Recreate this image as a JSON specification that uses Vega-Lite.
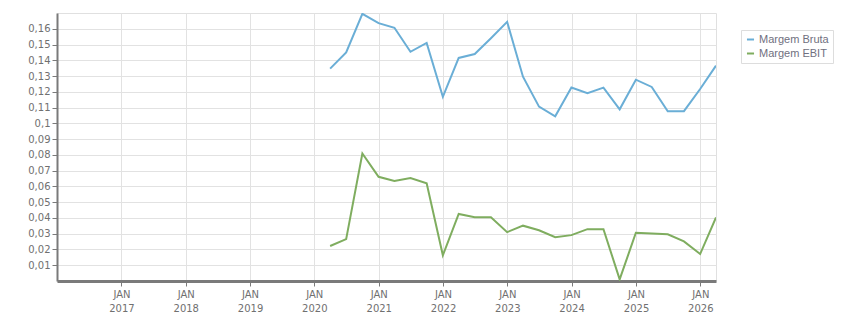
{
  "$schema": "https://vega.github.io/schema/vega-lite/v6.json",
  "width": 659,
  "height": 268,
  "autosize": {"type": "none"},
  "padding": {"left": 57, "top": 13, "right": 135, "bottom": 32},
  "background": "white",
  "config": {
    "font": "DejaVu Sans",
    "view": {"stroke": "#e0e0e0", "strokeWidth": 1},
    "axis": {
      "labelFont": "DejaVu Sans",
      "labelFontSize": 10,
      "labelColor": "#707070",
      "gridColor": "#e2e2e2",
      "gridWidth": 1,
      "domainColor": "#7a7a7a",
      "tickColor": "#7a7a7a",
      "tickSize": 5,
      "title": null
    },
    "legend": {
      "labelFont": "Liberation Sans",
      "labelFontSize": 11,
      "labelColor": "#707080"
    }
  },
  "datasets": {
    "series": [
      {"date": "2020-03-31", "serie": "Margem Bruta", "valor": 0.1347},
      {"date": "2020-06-30", "serie": "Margem Bruta", "valor": 0.145},
      {"date": "2020-09-30", "serie": "Margem Bruta", "valor": 0.1695},
      {"date": "2020-12-31", "serie": "Margem Bruta", "valor": 0.1636},
      {"date": "2021-03-31", "serie": "Margem Bruta", "valor": 0.1606},
      {"date": "2021-06-30", "serie": "Margem Bruta", "valor": 0.1454},
      {"date": "2021-09-30", "serie": "Margem Bruta", "valor": 0.151},
      {"date": "2021-12-31", "serie": "Margem Bruta", "valor": 0.1168},
      {"date": "2022-03-31", "serie": "Margem Bruta", "valor": 0.1415},
      {"date": "2022-06-30", "serie": "Margem Bruta", "valor": 0.144},
      {"date": "2022-09-30", "serie": "Margem Bruta", "valor": 0.154},
      {"date": "2022-12-31", "serie": "Margem Bruta", "valor": 0.1644},
      {"date": "2023-03-31", "serie": "Margem Bruta", "valor": 0.1296},
      {"date": "2023-06-30", "serie": "Margem Bruta", "valor": 0.1106},
      {"date": "2023-09-30", "serie": "Margem Bruta", "valor": 0.1045},
      {"date": "2023-12-31", "serie": "Margem Bruta", "valor": 0.1227},
      {"date": "2024-03-31", "serie": "Margem Bruta", "valor": 0.1191},
      {"date": "2024-06-30", "serie": "Margem Bruta", "valor": 0.1227},
      {"date": "2024-09-30", "serie": "Margem Bruta", "valor": 0.1089},
      {"date": "2024-12-31", "serie": "Margem Bruta", "valor": 0.1277},
      {"date": "2025-03-31", "serie": "Margem Bruta", "valor": 0.1231},
      {"date": "2025-06-30", "serie": "Margem Bruta", "valor": 0.1077},
      {"date": "2025-09-30", "serie": "Margem Bruta", "valor": 0.1077},
      {"date": "2025-12-31", "serie": "Margem Bruta", "valor": 0.1218},
      {"date": "2026-03-31", "serie": "Margem Bruta", "valor": 0.1366},
      {"date": "2020-03-31", "serie": "Margem EBIT", "valor": 0.0222},
      {"date": "2020-06-30", "serie": "Margem EBIT", "valor": 0.0266},
      {"date": "2020-09-30", "serie": "Margem EBIT", "valor": 0.0809},
      {"date": "2020-12-31", "serie": "Margem EBIT", "valor": 0.0661},
      {"date": "2021-03-31", "serie": "Margem EBIT", "valor": 0.0634},
      {"date": "2021-06-30", "serie": "Margem EBIT", "valor": 0.0653},
      {"date": "2021-09-30", "serie": "Margem EBIT", "valor": 0.062},
      {"date": "2021-12-31", "serie": "Margem EBIT", "valor": 0.0163},
      {"date": "2022-03-31", "serie": "Margem EBIT", "valor": 0.0425},
      {"date": "2022-06-30", "serie": "Margem EBIT", "valor": 0.0404},
      {"date": "2022-09-30", "serie": "Margem EBIT", "valor": 0.0404},
      {"date": "2022-12-31", "serie": "Margem EBIT", "valor": 0.031},
      {"date": "2023-03-31", "serie": "Margem EBIT", "valor": 0.0351},
      {"date": "2023-06-30", "serie": "Margem EBIT", "valor": 0.0322},
      {"date": "2023-09-30", "serie": "Margem EBIT", "valor": 0.0278},
      {"date": "2023-12-31", "serie": "Margem EBIT", "valor": 0.0291},
      {"date": "2024-03-31", "serie": "Margem EBIT", "valor": 0.0329},
      {"date": "2024-06-30", "serie": "Margem EBIT", "valor": 0.0329},
      {"date": "2024-09-30", "serie": "Margem EBIT", "valor": 0.001},
      {"date": "2024-12-31", "serie": "Margem EBIT", "valor": 0.0306},
      {"date": "2025-03-31", "serie": "Margem EBIT", "valor": 0.0302},
      {"date": "2025-06-30", "serie": "Margem EBIT", "valor": 0.0296},
      {"date": "2025-09-30", "serie": "Margem EBIT", "valor": 0.0251},
      {"date": "2025-12-31", "serie": "Margem EBIT", "valor": 0.0171},
      {"date": "2026-03-31", "serie": "Margem EBIT", "valor": 0.0403}
    ]
  },
  "data": {"name": "series"},
  "mark": {"type": "line", "strokeWidth": 2, "clip": true},
  "encoding": {
    "x": {
      "field": "date",
      "type": "temporal",
      "scale": {"domain": ["2016-01-01", "2026-03-31"], "nice": false},
      "axis": {
        "values": [
          {"year": 2017, "month": 1, "date": 1},
          {"year": 2018, "month": 1, "date": 1},
          {"year": 2019, "month": 1, "date": 1},
          {"year": 2020, "month": 1, "date": 1},
          {"year": 2021, "month": 1, "date": 1},
          {"year": 2022, "month": 1, "date": 1},
          {"year": 2023, "month": 1, "date": 1},
          {"year": 2024, "month": 1, "date": 1},
          {"year": 2025, "month": 1, "date": 1},
          {"year": 2026, "month": 1, "date": 1}
        ],
        "labelExpr": "['JAN', timeFormat(datum.value, '%Y')]",
        "labelLineHeight": 14,
        "labelPadding": 3,
        "labelFlush": false,
        "domainWidth": 3,
        "tickWidth": 1,
        "grid": true
      }
    },
    "y": {
      "field": "valor",
      "type": "quantitative",
      "scale": {"domain": [0, 0.17], "nice": false, "zero": true},
      "axis": {
        "values": [0.01, 0.02, 0.03, 0.04, 0.05, 0.06, 0.07, 0.08, 0.09, 0.1, 0.11, 0.12, 0.13, 0.14, 0.15, 0.16],
        "labelExpr": "replace(format(datum.value, '.2~f'), '.', ',')",
        "labelPadding": 2,
        "domainWidth": 2,
        "tickWidth": 1,
        "grid": true
      }
    },
    "color": {
      "field": "serie",
      "type": "nominal",
      "scale": {"domain": ["Margem Bruta", "Margem EBIT"], "range": ["#6aaed6", "#7fad5f"]},
      "legend": {
        "title": null,
        "orient": "none",
        "legendX": 684,
        "legendY": 17,
        "symbolType": "stroke",
        "symbolSize": 50,
        "symbolStrokeWidth": 2,
        "labelOffset": 3,
        "rowPadding": 2,
        "padding": 4,
        "strokeColor": "#dddddd",
        "fillColor": "white"
      }
    }
  }
}
